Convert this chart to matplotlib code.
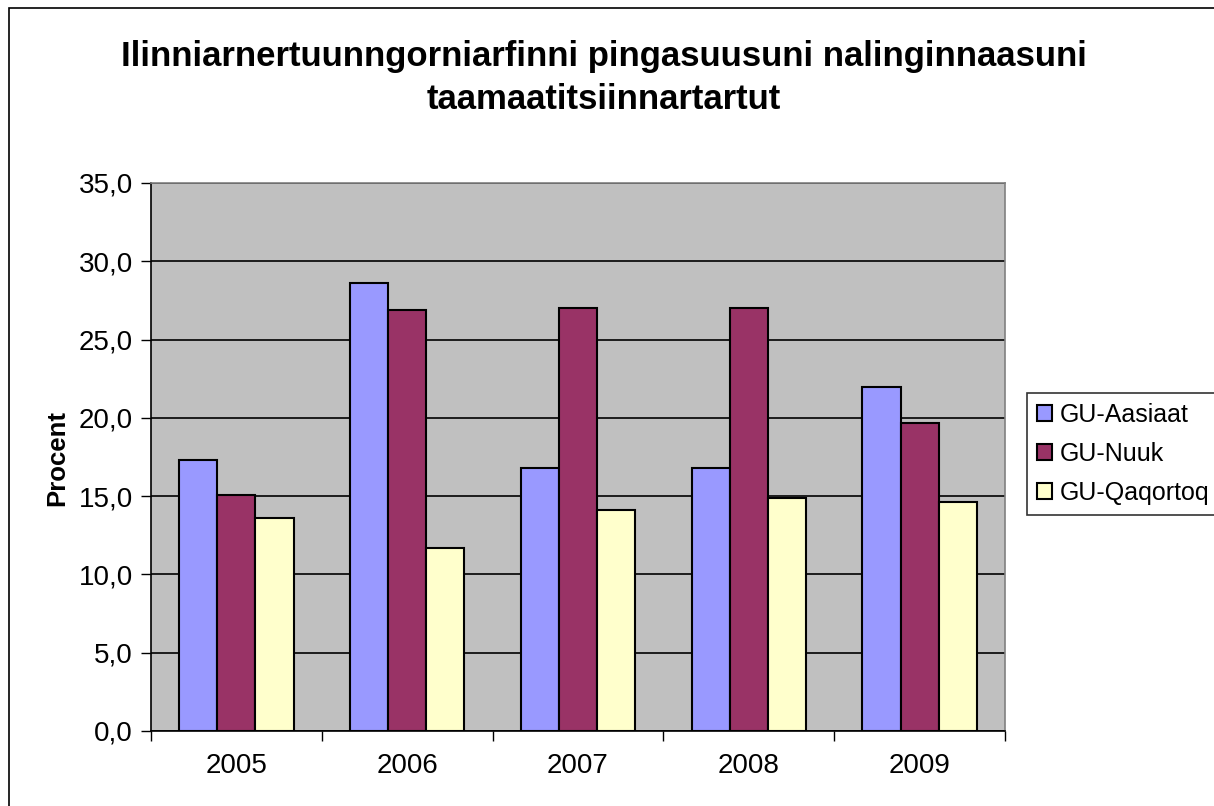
import matplotlib.pyplot as plt
import numpy as np
from matplotlib.patches import Rectangle
from matplotlib.ticker import FixedLocator, FuncFormatter

plt.rcParams['font.family'] = ['Liberation Sans', 'DejaVu Sans']

years = ['2005', '2006', '2007', '2008', '2009']
aasiaat = [17.3, 28.6, 16.8, 16.8, 22.0]
nuuk = [15.1, 26.9, 27.0, 27.0, 19.7]
qaqortoq = [13.6, 11.7, 14.1, 14.85, 14.6]

series = [('GU-Aasiaat', aasiaat, '#9999FF'),
          ('GU-Nuuk', nuuk, '#993366'),
          ('GU-Qaqortoq', qaqortoq, '#FFFFCC')]

W, H = 1214, 806
fig = plt.figure(figsize=(W / 100, H / 100), dpi=100)
fig.patch.set_facecolor('white')

# outer chart border
fig.patches.append(Rectangle((9 / W, -0.05), 1.2, 1 - 8 / H + 0.05, transform=fig.transFigure,
                             fill=False, edgecolor='black', linewidth=1.2))

ax = fig.add_axes([151 / W, 1 - 731 / H, (1005 - 151) / W, (731 - 183) / H])
ax.set_facecolor('#C0C0C0')

x = np.arange(len(years))
width = 0.223
for i, (name, vals, color) in enumerate(series):
    ax.bar(x + (i - 1) * width, vals, width, label=name, color=color,
           edgecolor='black', linewidth=1.5, zorder=3)

ax.set_xlim(-0.5, len(years) - 0.5)
ax.set_ylim(0, 35)
ax.set_yticks(np.arange(0, 36, 5))
ax.yaxis.set_major_formatter(FuncFormatter(lambda v, p: f'{v:.1f}'.replace('.', ',')))
ax.grid(axis='y', color='black', linewidth=1.2, zorder=1)
ax.set_axisbelow(True)

ax.set_xticks(x)
ax.set_xticklabels(years)
ax.xaxis.set_minor_locator(FixedLocator(np.arange(-0.5, len(years), 1)))
ax.tick_params(axis='x', which='major', length=0, pad=16, labelsize=20)
ax.tick_params(axis='x', which='minor', length=7, width=1, color='black')
ax.tick_params(axis='y', length=7, width=1, pad=6, labelsize=20)

for s in ['left', 'bottom']:
    ax.spines[s].set_color('black')
    ax.spines[s].set_linewidth(1.2)
for s in ['top', 'right']:
    ax.spines[s].set_color('#808080')
    ax.spines[s].set_linewidth(1.2)

fig.text(57 / W, 1 - 458 / H, 'Procent', rotation=90, ha='center', va='center',
         fontsize=18.5, fontweight='bold')

fig.text(604 / W, 1 - 78 / H,
         'Ilinniarnertuunngorniarfinni pingasuusuni nalinginnaasuni\ntaamaatitsiinnartartut',
         ha='center', va='center', fontsize=25, fontweight='bold', linespacing=1.4)

leg = fig.legend(loc='upper left', bbox_to_anchor=(1027 / W, 1 - 393 / H), frameon=True,
                 fancybox=False, edgecolor='black', fontsize=18, handlelength=0.6,
                 handleheight=0.6, handletextpad=0.3, labelspacing=0.6, borderpad=0.4,
                 borderaxespad=0)
leg.get_frame().set_linewidth(1.2)

fig.savefig('out.png', dpi=100)
